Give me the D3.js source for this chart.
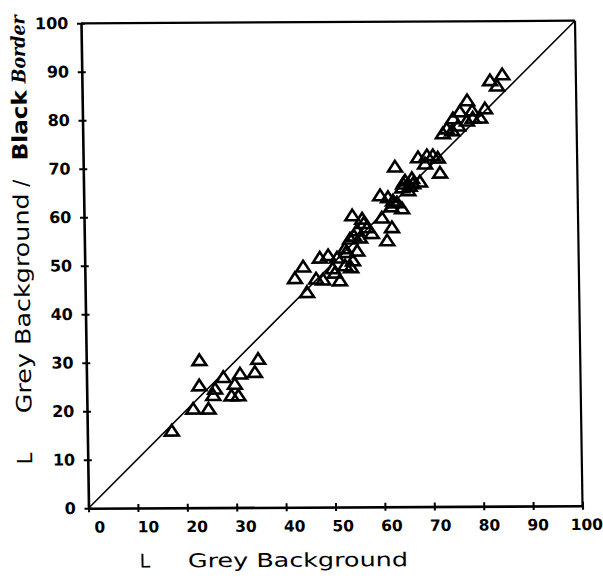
<!DOCTYPE html>
<html>
<head>
<meta charset="utf-8">
<script src="https://cdn.jsdelivr.net/npm/d3@7/dist/d3.min.js"></script>
<style>
  html, body { margin: 0; padding: 0; background: #fff; }
  svg { display: block; }
</style>
</head>
<body>
<svg id="chart" width="603" height="578"></svg>
<script>
// Lightness on a grey background (x) vs. on a grey background with a black border (y)
const lightnessGrey = [
  22.9, 22.8, 17.1, 21.5, 24.6, 26.0, 25.6, 27.7, 29.3, 30.7, 30.0, 31.1, 34.1, 34.8,
  44.2, 42.5, 44.9, 47.6, 49.3, 46.8, 48.2, 51.6, 50.2, 52.7, 53.9, 51.1, 52.9, 55.2,
  54.3, 52.7, 53.8, 55.8, 54.3, 56.3, 55.2, 57.3, 58.2, 60.3, 62.3, 61.3, 60.0, 61.6,
  63.4, 64.4, 62.6, 63.1, 64.7, 66.7, 68.1, 65.7, 64.5, 65.1, 66.5, 67.8, 69.6, 70.8,
  71.8, 72.2, 69.2, 56.6, 54.6, 62.2, 66.0, 50.6,
  72.9, 74.8, 76.0, 76.4, 75.0, 77.9, 77.8, 78.9, 79.0, 80.5, 81.5, 82.6, 84.0, 85.1, 73.7
];
const lightnessBorder = [
  30.5, 25.3, 16.0, 20.5, 20.5, 24.6, 23.3, 27.0, 23.2, 23.2, 25.6, 27.7, 28.0, 30.7,
  49.7, 47.3, 44.4, 51.5, 52.0, 47.2, 47.0, 46.8, 49.3, 49.9, 49.5, 51.5, 52.6, 52.9,
  50.9, 53.4, 55.4, 55.6, 60.2, 59.5, 57.1, 57.7, 56.5, 59.7, 57.7, 55.0, 64.3, 63.9,
  62.8, 61.6, 63.2, 70.2, 66.7, 66.7, 67.1, 65.3, 65.9, 67.3, 67.8, 72.1, 72.5, 72.5,
  72.0, 68.9, 70.8, 58.6, 56.0, 62.0, 66.2, 48.4,
  77.0, 77.6, 78.6, 81.5, 80.1, 83.8, 79.6, 81.7, 80.2, 80.2, 82.1, 87.9, 86.8, 89.1, 78.0
];
const xTicks = [0, 10, 20, 30, 40, 50, 60, 70, 80, 90, 100];
const yTicks = [0, 10, 20, 30, 40, 50, 60, 70, 80, 90, 100];
const xTickLabels = ["0", "10", "20", "30", "40", "50", "60", "70", "80", "90", "100"];

const points = lightnessGrey.map((v, i) => ({ x: v, y: lightnessBorder[i] }));

const svg = d3.select("#chart");

// The hand-plotted sheet sits with a slight shear; everything is drawn inside it.
const root = svg.append("g")
  .attr("transform", "matrix(1,-0.00526,0.0155,1,-0.361,0.426)");

const x = d3.scaleLinear().domain([0, 100]).range([81, 575]);
const y = d3.scaleLinear().domain([0, 100]).range([508.3, 23.3]);
const xLabel = d3.scaleLinear().domain([0, 100]).range([92, 579]);

// Frame: top and right edges
root.append("line")
  .attr("x1", x(0)).attr("y1", y(100)).attr("x2", x(100)).attr("y2", y(100))
  .attr("stroke", "#000").attr("stroke-width", 2.2);
root.append("line")
  .attr("x1", x(100)).attr("y1", y(100)).attr("x2", x(100)).attr("y2", y(0))
  .attr("stroke", "#000").attr("stroke-width", 2.2);

// Line of equality
root.append("line")
  .attr("x1", x(0)).attr("y1", y(0)).attr("x2", x(100)).attr("y2", y(100))
  .attr("stroke", "#000").attr("stroke-width", 1.6);

// Y axis
const yAxis = root.append("g")
  .attr("transform", `translate(${x(0)},0)`)
  .call(d3.axisLeft(y).tickValues(yTicks).tickSizeInner(4).tickSizeOuter(0).tickPadding(8.7));
yAxis.select(".domain").attr("stroke", "#000").attr("stroke-width", 2.6);
yAxis.selectAll(".tick line").attr("x1", 4).attr("stroke", "#000").attr("stroke-width", 2);
yAxis.selectAll(".tick text")
  .attr("font-family", "DejaVu Sans, sans-serif")
  .attr("font-weight", "bold")
  .attr("font-size", 16)
  .attr("fill", "#000");

// X axis (ticks), labels placed from their own scale
const xAxis = root.append("g")
  .attr("transform", `translate(0,${y(0)})`)
  .call(d3.axisBottom(x).tickValues(xTicks).tickSizeInner(4).tickSizeOuter(0).tickFormat(""));
xAxis.select(".domain").attr("stroke", "#000").attr("stroke-width", 2.6);
xAxis.selectAll(".tick line").attr("y1", -4).attr("stroke", "#000").attr("stroke-width", 2);

root.append("g").selectAll("text")
  .data(xTicks)
  .join("text")
  .attr("x", d => xLabel(d))
  .attr("y", 532.5)
  .attr("text-anchor", "middle")
  .attr("font-family", "DejaVu Sans, sans-serif")
  .attr("font-weight", "bold")
  .attr("font-size", 15.5)
  .text((d, i) => xTickLabels[i]);

// Markers: open triangles
const triangle = {
  draw(ctx) {
    ctx.moveTo(0, -5.3);
    ctx.lineTo(6.9, 5.3);
    ctx.lineTo(-6.9, 5.3);
    ctx.closePath();
  }
};
root.append("g").selectAll("path")
  .data(points)
  .join("path")
  .attr("d", d3.symbol(triangle))
  .attr("transform", d => `translate(${x(d.x)},${y(d.y)})`)
  .attr("fill", "none")
  .attr("stroke", "#000")
  .attr("stroke-width", 2.6)
  .attr("stroke-linejoin", "miter");

// X title
const titleFont = "DejaVu Sans, sans-serif";
root.append("text")
  .attr("x", 136.6).attr("y", 567.8)
  .attr("text-anchor", "middle")
  .attr("font-family", titleFont).attr("font-size", 19)
  .text("L");
root.append("text")
  .attr("x", 179.6).attr("y", 567.8)
  .attr("font-family", titleFont).attr("font-size", 19)
  .attr("textLength", 220).attr("lengthAdjust", "spacingAndGlyphs")
  .text("Grey Background");

// Y title (rotated)
const yt = root.append("g").attr("transform", "translate(25.5,0) rotate(-90)");
yt.append("text")
  .attr("x", -458).attr("y", 0)
  .attr("text-anchor", "middle")
  .attr("font-family", titleFont).attr("font-size", 21)
  .text("L");
yt.append("text")
  .attr("x", -413).attr("y", 0)
  .attr("font-family", titleFont).attr("font-size", 21)
  .attr("textLength", 220).attr("lengthAdjust", "spacingAndGlyphs")
  .text("Grey Background");
yt.append("text")
  .attr("x", -183).attr("y", 0)
  .attr("text-anchor", "middle")
  .attr("font-family", titleFont).attr("font-size", 21)
  .text("/");
yt.append("text")
  .attr("x", -160).attr("y", 0)
  .attr("font-family", titleFont).attr("font-size", 21).attr("font-weight", "bold")
  .attr("textLength", 70).attr("lengthAdjust", "spacingAndGlyphs")
  .text("Black");
yt.append("text")
  .attr("x", -83).attr("y", -1)
  .attr("font-family", "DejaVu Serif, serif").attr("font-size", 19)
  .attr("font-style", "italic").attr("font-weight", "bold")
  .attr("textLength", 68).attr("lengthAdjust", "spacingAndGlyphs")
  .text("Border");
</script>
</body>
</html>
